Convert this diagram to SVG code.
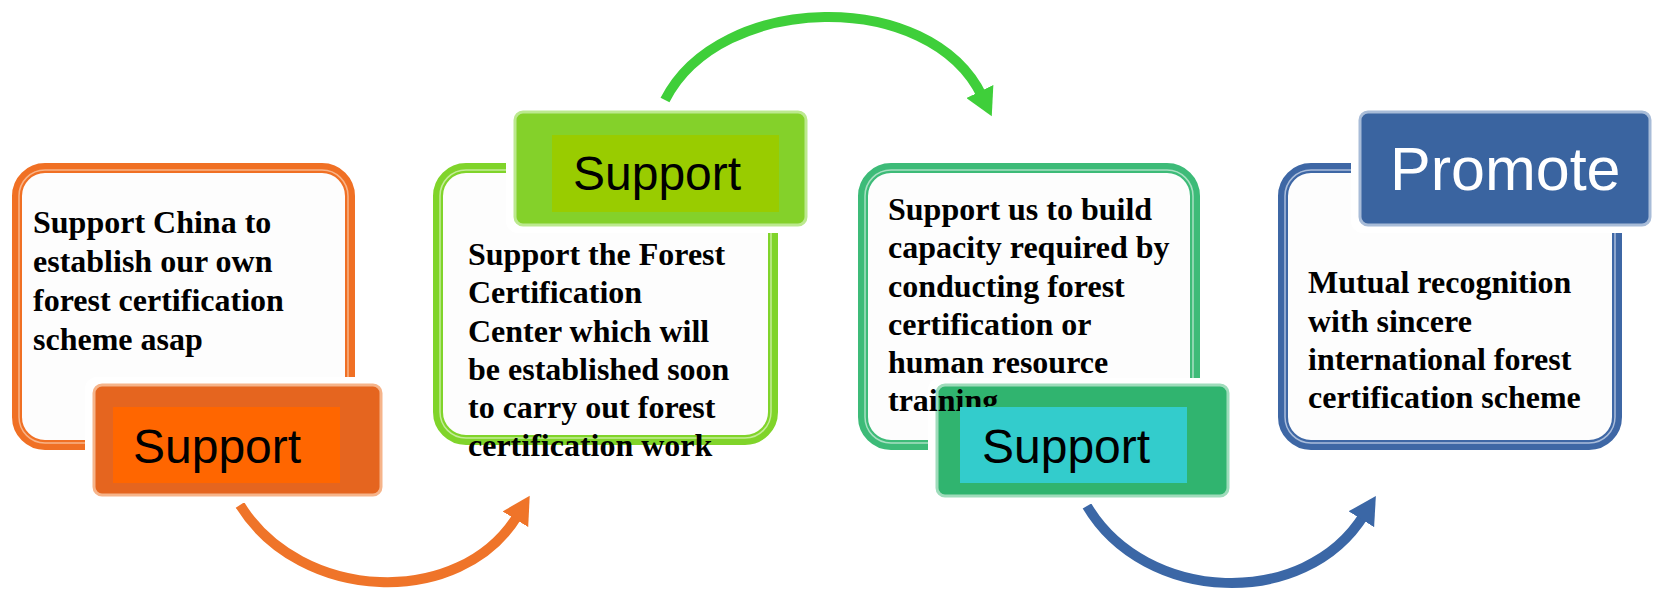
<svg xmlns="http://www.w3.org/2000/svg" width="1653" height="593" viewBox="0 0 1653 593">
<style>
.body{font-family:"Liberation Serif","Times New Roman",serif;font-weight:bold;font-size:32px;fill:#000}
.lab{font-family:"Liberation Sans",Arial,sans-serif;font-size:48px;fill:#000}
.frame{fill:#fdfdfd;stroke-width:10}
.stripe{fill:none;stroke-width:1.5}
.halo{fill:#fff}
.arrow{fill:none;stroke-width:10}
</style>
<defs>
<marker id="mo" markerUnits="userSpaceOnUse" markerWidth="30" markerHeight="30" refX="4" refY="12" orient="auto" viewBox="0 0 24 24"><path d="M0,0 L22,12 L0,24 Z" fill="#ef7429"/></marker>
<marker id="mg" markerUnits="userSpaceOnUse" markerWidth="30" markerHeight="30" refX="4" refY="12" orient="auto" viewBox="0 0 24 24"><path d="M0,0 L22,12 L0,24 Z" fill="#3fcf3a"/></marker>
<marker id="mb" markerUnits="userSpaceOnUse" markerWidth="30" markerHeight="30" refX="4" refY="12" orient="auto" viewBox="0 0 24 24"><path d="M0,0 L22,12 L0,24 Z" fill="#3b67a6"/></marker>
</defs>
<rect width="1653" height="593" fill="#fff"/>

<g id="connectors">
<path class="arrow" d="M240,505 C300,602 460,610 518,515" stroke="#ef7429" marker-end="url(#mo)"/>
<path class="arrow" d="M665,100 C720,-8 930,-12 982,96" stroke="#3fcf3a" marker-end="url(#mg)"/>
<path class="arrow" d="M1087,506 C1145,604 1305,610 1364,515" stroke="#3b67a6" marker-end="url(#mb)"/>
</g>

<g id="node1">
<rect class="frame" x="17" y="168" width="333" height="277" rx="28" stroke="#f07024"/>
<rect class="stripe" x="19" y="170" width="329" height="273" rx="26" stroke="#f8b488"/>
<text class="body"><tspan x="33" y="233">Support China to</tspan><tspan x="33" y="272">establish our own</tspan><tspan x="33" y="311">forest certification</tspan><tspan x="33" y="350">scheme asap</tspan></text>
<rect class="halo" x="85" y="377" width="305" height="126" rx="12"/>
<rect x="94" y="385" width="287" height="110" rx="8" fill="#e5651f" stroke="#f6b48a" stroke-width="3"/>
<rect x="113" y="407" width="227" height="76" fill="#ff6600"/>
<text class="lab" x="133" y="463">Support</text>
</g>

<g id="node2">
<rect class="frame" x="438" y="168" width="335" height="272" rx="28" stroke="#80d42a"/>
<rect class="stripe" x="440" y="170" width="331" height="268" rx="26" stroke="#c4ec98"/>
<text class="body"><tspan x="468" y="265">Support the Forest</tspan><tspan x="468" y="303">Certification</tspan><tspan x="468" y="342">Center which will</tspan><tspan x="468" y="380">be established soon</tspan><tspan x="468" y="418">to carry out forest</tspan><tspan x="468" y="456">certification work</tspan></text>
<rect class="halo" x="506" y="104" width="309" height="129" rx="12"/>
<rect x="515" y="112" width="291" height="113" rx="8" fill="#84d12a" stroke="#bce98f" stroke-width="3"/>
<rect x="552" y="135" width="227" height="77" fill="#99cc00"/>
<text class="lab" x="573" y="190">Support</text>
</g>

<g id="node3">
<rect class="frame" x="863" y="168" width="332" height="277" rx="28" stroke="#3dbb78"/>
<rect class="stripe" x="865" y="170" width="328" height="273" rx="26" stroke="#a8e0c2"/>
<rect class="halo" x="928" y="378" width="307" height="126" rx="12"/>
<rect x="937" y="385" width="291" height="111" rx="8" fill="#30b46f" stroke="#9fdcbb" stroke-width="3"/>
<text class="body"><tspan x="888" y="220">Support us to build</tspan><tspan x="888" y="258">capacity required by</tspan><tspan x="888" y="297">conducting forest</tspan><tspan x="888" y="335">certification or</tspan><tspan x="888" y="373">human resource</tspan><tspan x="888" y="411">training</tspan></text>
<rect x="960" y="407" width="227" height="76" fill="#33cccc"/>
<text class="lab" x="982" y="463">Support</text>
</g>

<g id="node4">
<rect class="frame" x="1283" y="168" width="334" height="277" rx="28" stroke="#3e67a5"/>
<rect class="stripe" x="1285" y="170" width="330" height="273" rx="26" stroke="#aabddb"/>
<text class="body"><tspan x="1308" y="293">Mutual recognition</tspan><tspan x="1308" y="332">with sincere</tspan><tspan x="1308" y="370">international forest</tspan><tspan x="1308" y="408">certification scheme</tspan></text>
<rect class="halo" x="1351" y="104" width="302" height="129" rx="12"/>
<rect x="1360" y="112" width="290" height="113" rx="8" fill="#3a64a0" stroke="#a8bcd8" stroke-width="3"/>
<text class="lab" x="1390" y="190" style="font-size:61px;fill:#fff">Promote</text>
</g>
</svg>
